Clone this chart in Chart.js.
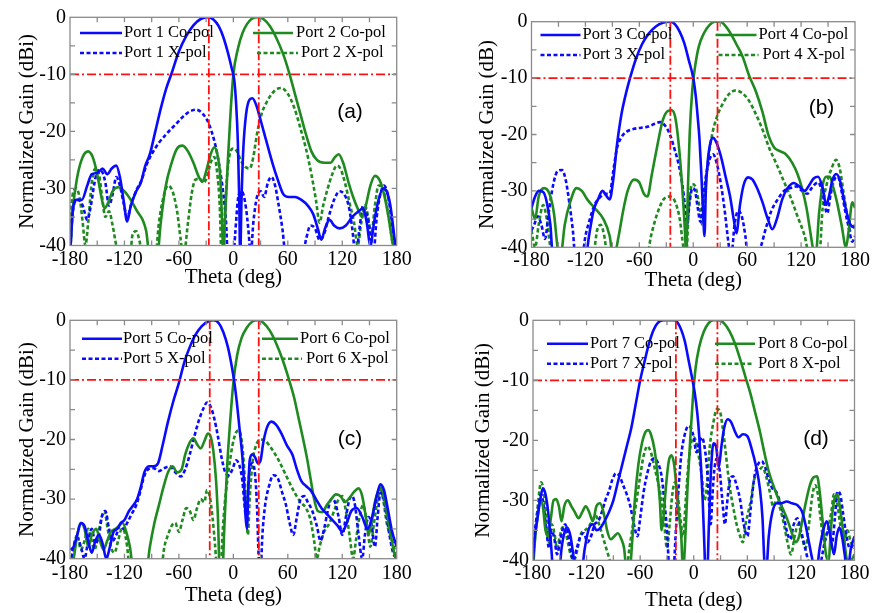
<!DOCTYPE html>
<html>
<head>
<meta charset="utf-8">
<script src="https://cdn.jsdelivr.net/npm/chart.js@4.4.1/dist/chart.umd.min.js"></script>
<style>
  body { margin: 0; background: #fff; width: 874px; height: 613px; overflow: hidden; position: relative; }
  canvas { position: absolute; }
</style>
</head>
<body>
<canvas id="panelA" width="437" height="300" style="left:0;top:0"></canvas>
<canvas id="panelB" width="437" height="300" style="left:437px;top:0"></canvas>
<canvas id="panelC" width="437" height="313" style="left:0;top:300px"></canvas>
<canvas id="panelD" width="437" height="313" style="left:437px;top:300px"></canvas>
<script>
// axis ticks
const thetaTicks = [-180, -120, -60, 0, 60, 120, 180];
const gainTicks = [0, -10, -20, -30, -40];
const refLevel = -10;

// beam directions (red dash-dot markers), one pair per panel
const beamA = [-27, 28];
const beamB = [-25.5, 27];
const beamC = [-26, 28];
const beamD = [-20, 26.5];

// panel (a): [theta deg, normalized gain dB]
const port1Co = [[-180,-42],[-177,-34],[-173,-32],[-167,-32],[-161,-29.5],[-156,-27.5],[-150,-27.3],[-144,-26.5],[-139,-27.5],[-134,-26.5],[-129,-26],[-125,-28],[-121,-32],[-117,-35.8],[-113,-33],[-107,-30.5],[-102,-29],[-97,-26],[-92,-24],[-86,-20],[-80,-16],[-74,-12.5],[-68,-9.8],[-60,-6],[-52,-3.3],[-44,-1.4],[-36,-0.3],[-28,0],[-22,-0.4],[-16,-1.6],[-11,-3.5],[-6,-6.2],[-2,-8.8],[1,-11],[3,-15],[5,-22],[6.5,-32],[7.5,-42],[9,-32],[11,-23],[14,-17],[18,-14.4],[21,-14.2],[25,-15.3],[30,-18],[36,-21.5],[43,-25.5],[49,-28.5],[55,-31],[61,-31.5],[68,-31.5],[75,-32],[82,-33],[88,-34.5],[93,-37],[97,-39],[101,-37],[106,-35.5],[111,-36.5],[117,-37],[124,-36.5],[131,-35],[138,-34],[143,-33.5],[147,-36],[151,-40],[155,-36],[160,-32],[165,-30],[169,-30.5],[173,-33],[177,-38],[180,-42]];
const port1X = [[-180,-42],[-178,-36],[-175,-32.5],[-171,-32],[-166,-33],[-161,-35.5],[-157,-33],[-153,-29],[-149,-26.8],[-145,-27],[-141,-29],[-137,-33],[-133,-31],[-129,-28],[-125,-29.5],[-121,-32.5],[-117,-35],[-112,-32.5],[-106,-30],[-101,-28.5],[-96,-26],[-90,-24],[-82,-22],[-74,-20.5],[-65,-19],[-56,-17.5],[-48,-16.5],[-41,-16.2],[-35,-16.7],[-29,-18],[-24,-20],[-19,-23],[-15,-26.5],[-11,-31],[-8,-36],[-6,-42],[0,-42],[2,-38],[5,-32],[8,-30.5],[11,-31],[14,-33.5],[17,-38],[19,-42],[22,-36],[26,-31.5],[30,-30.5],[34,-31.5],[38,-29],[42,-28],[46,-29.5],[50,-33],[54,-37],[58,-42],[76,-42],[80,-39],[85,-36.5],[90,-37],[95,-39],[100,-38],[105,-35],[111,-32],[117,-30.5],[122,-31],[127,-33],[131,-37],[135,-42],[139,-37],[143,-33],[147,-34.5],[151,-38],[154,-42],[158,-35],[162,-31],[166,-29.5],[170,-31],[174,-35],[178,-40],[180,-42]];
const port2Co = [[-180,-42],[-177,-34],[-172,-28],[-166,-24.5],[-160,-23.5],[-155,-24.5],[-150,-27.5],[-146,-31],[-142,-33.5],[-138,-32.5],[-133,-30.5],[-127,-29.8],[-120,-30.5],[-113,-32],[-106,-34],[-100,-35.5],[-96,-37.5],[-92,-42],[-84,-42],[-80,-36],[-75,-30],[-68,-25.5],[-62,-23],[-56,-22.5],[-50,-23.5],[-44,-25.5],[-38,-28],[-34,-28.8],[-30,-27],[-25,-24],[-21,-22.8],[-17,-24.5],[-14,-29],[-12,-38],[-11,-42],[-9,-35],[-6,-25],[-3,-16.5],[0,-10],[5,-5.5],[10,-2.8],[15,-1.2],[20,-0.3],[27,0],[33,-0.3],[40,-1.5],[47,-3.5],[55,-6.5],[62,-10],[68,-13.5],[74,-17],[80,-20.5],[86,-23.5],[92,-25],[100,-25.5],[107,-25.5],[112,-24.5],[116,-24],[121,-25.5],[127,-29],[132,-31.5],[137,-33.5],[142,-35],[146,-33],[151,-29.5],[156,-27.8],[161,-28.5],[166,-31],[171,-35],[176,-40],[180,-42]];
const port2X = [[-180,-36],[-177,-31],[-173,-30],[-169,-32],[-166,-36],[-163,-40],[-160,-36],[-156,-29],[-152,-26.5],[-148,-27.5],[-145,-31],[-141,-35],[-137,-34],[-133,-36.5],[-129,-40],[-125,-42],[-114,-42],[-111,-38],[-107,-37.5],[-103,-39.5],[-100,-42],[-86,-42],[-82,-36],[-77,-31.5],[-72,-29.5],[-67,-30.5],[-62,-34],[-58,-39],[-55,-42],[-50,-36],[-46,-31],[-42,-28.5],[-37,-28.3],[-33,-29],[-29,-28],[-25,-25.5],[-21,-24.5],[-18,-27],[-15,-33],[-13,-42],[-10,-36],[-7,-28],[-4,-24],[0,-23],[4,-23.5],[8,-25],[13,-26.2],[18,-26.5],[22,-24.5],[26,-20.5],[31,-17],[38,-14.5],[46,-12.8],[53,-12.4],[60,-13.4],[67,-15.8],[74,-19.5],[80,-23],[86,-27.5],[91,-32],[95,-36],[99,-33],[104,-30],[109,-27.5],[114,-26],[118,-26.5],[123,-29],[128,-32.5],[133,-36],[137,-40],[141,-36],[145,-33],[148,-34.5],[152,-38],[156,-33],[160,-29.5],[164,-29.5],[168,-32],[172,-36],[176,-40],[180,-42]];

// panel (b)
const port3Co = [[-180,-33],[-176,-31],[-172,-30],[-167,-30.2],[-163,-32],[-159,-36],[-156,-42],[-120,-42],[-116,-38],[-111,-33.5],[-106,-31.5],[-101,-30],[-97,-30.8],[-93,-31.5],[-89,-28],[-85,-22],[-80,-16.5],[-75,-12.8],[-70,-9.8],[-64,-6.7],[-57,-4],[-50,-2.2],[-42,-0.9],[-34,-0.2],[-26,0],[-20,-0.5],[-15,-1.8],[-10,-3.8],[-5,-6.8],[0,-10],[3,-13.5],[5,-17],[7,-21],[9,-27],[11,-34],[12.5,-38],[14,-30],[16,-25],[19,-21.5],[22,-20.6],[26,-21.5],[31,-24],[36,-27.5],[41,-31],[45,-35],[48,-37.5],[52,-32.5],[56,-29],[61,-27.6],[66,-28],[71,-29.5],[77,-32],[83,-35],[88,-36.8],[93,-35],[99,-31.5],[105,-29.5],[112,-28.6],[118,-29.2],[124,-30],[129,-29],[134,-27.8],[139,-27.5],[144,-29.5],[148,-32.5],[151,-31],[155,-28],[159,-27],[163,-28],[167,-31],[171,-34],[175,-36],[180,-36.5]];
const port3X = [[-180,-37],[-177,-36],[-173,-34.5],[-169,-36],[-165,-38.5],[-161,-34],[-156,-29],[-151,-26.5],[-146,-26.3],[-142,-28],[-138,-32],[-134,-37],[-131,-42],[-124,-42],[-120,-38],[-115,-35],[-110,-32.5],[-104,-31.2],[-98,-30.5],[-93,-30.5],[-89,-26.5],[-85,-22.5],[-80,-20.5],[-74,-19.5],[-66,-19],[-58,-18.8],[-50,-18.6],[-43,-18.1],[-37,-17.8],[-31,-18.5],[-26,-20],[-21,-22.5],[-16,-25.5],[-12,-29],[-9,-33],[-7,-36],[-4,-32],[-1,-29.5],[2,-30],[5,-33],[8,-35.5],[11,-31.5],[14,-27.5],[18,-24.5],[22,-23.5],[26,-25],[31,-29],[35,-33.5],[39,-39],[42,-42],[46,-36],[50,-33.5],[54,-34.5],[58,-38],[61,-42],[70,-42],[75,-40],[81,-36.5],[87,-33.5],[94,-31.5],[101,-30],[108,-29.5],[115,-29.2],[121,-30],[127,-30.5],[133,-29.2],[139,-28.5],[144,-30.5],[149,-34],[153,-30.5],[157,-28],[161,-27.5],[165,-30],[169,-33.5],[173,-36.5],[177,-39],[180,-38]];
const port4Co = [[-180,-33],[-176,-35],[-172,-31],[-166,-29.5],[-160,-30.5],[-155,-34],[-151,-40],[-148,-42],[-143,-36],[-137,-32],[-130,-29.5],[-124,-30],[-118,-31.5],[-110,-33],[-100,-35],[-93,-38],[-89,-42],[-83,-38],[-78,-33.5],[-73,-30],[-66,-28],[-60,-28.5],[-55,-30.5],[-51,-31],[-46,-27],[-40,-22],[-34,-17.5],[-28,-15.8],[-24,-15.7],[-20,-17],[-16,-22],[-12,-30],[-9,-38],[-8,-42],[-6,-30],[-4,-20],[-1,-12],[2,-8],[6,-4.5],[12,-2],[18,-0.6],[24,0],[30,0],[36,-0.8],[42,-2.2],[48,-4],[55,-6.2],[62,-9.5],[70,-12.5],[77,-16],[84,-20.3],[90,-22.3],[97,-23],[103,-23.5],[110,-25],[116,-27],[121,-29.5],[126,-33],[130,-37],[133,-40],[136,-42],[140,-34],[144,-29],[148,-27.5],[152,-27.5],[156,-29.5],[160,-32],[165,-36],[170,-40],[173,-37],[177,-32],[180,-33]];
const port4X = [[-180,-37],[-176,-40],[-172,-36],[-167,-32.5],[-163,-35],[-159,-40],[-156,-42],[-112,-42],[-107,-37],[-103,-36],[-99,-38],[-95,-42],[-52,-42],[-47,-38],[-40,-34],[-33,-31.5],[-26,-31],[-20,-32],[-15,-35],[-11,-40],[-8,-42],[-5,-33],[-1,-28.8],[3,-29.5],[7,-33],[10,-36],[13,-30],[17,-24],[21,-20],[26,-17],[32,-14.8],[40,-12.8],[47,-12.2],[54,-12.6],[62,-14],[70,-16.5],[78,-19.5],[85,-22.6],[92,-25],[100,-28],[108,-31],[116,-34.5],[124,-38],[130,-42],[140,-42],[144,-33],[149,-28.5],[154,-26],[159,-24.5],[163,-26],[167,-30],[171,-34],[175,-37],[180,-36]];

// panel (c)
const port5Co = [[-180,-38.5],[-176,-38],[-172,-36],[-168,-34],[-164,-34.5],[-160,-37],[-156,-39],[-152,-37],[-148,-36],[-144,-37.5],[-140,-40],[-136,-38],[-132,-35.5],[-128,-35],[-124,-34],[-120,-33.5],[-115,-32],[-110,-31],[-106,-30],[-102,-28],[-98,-25.5],[-93,-24.5],[-88,-24.5],[-83,-24],[-78,-21],[-72,-17],[-66,-13.5],[-60,-10.5],[-54,-7],[-48,-4.5],[-42,-2.5],[-35,-1],[-28,-0.2],[-22,0],[-16,-0.5],[-11,-2],[-6,-4.5],[-2,-7.5],[1,-10.3],[4,-14],[7,-18.5],[10,-23],[12,-28],[13.5,-33],[15,-35],[16.5,-28],[18,-23.5],[21,-22.5],[24,-23],[27,-24],[30,-23.5],[33,-20.5],[37,-18],[42,-17],[47,-17.5],[53,-19],[59,-21],[65,-22.5],[70,-25],[75,-27],[80,-27.8],[85,-28.5],[91,-30],[97,-31.5],[103,-32.5],[109,-33.5],[115,-34.5],[120,-35.5],[125,-34],[130,-32],[136,-31.5],[142,-33],[148,-35],[153,-33],[158,-29.5],[162,-27.5],[166,-28.5],[170,-31.5],[175,-35.5],[180,-38]];
const port5X = [[-180,-42],[-176,-38],[-172,-36.5],[-168,-38],[-164,-40],[-160,-37],[-156,-35],[-152,-37.5],[-148,-36],[-145,-33],[-141,-32],[-137,-35],[-133,-37],[-129,-36],[-125,-34.5],[-121,-35],[-117,-34],[-112,-32.5],[-107,-31],[-103,-29],[-99,-26.5],[-94,-25],[-88,-24.8],[-82,-25.3],[-76,-24.8],[-70,-24.5],[-64,-25.5],[-58,-26.2],[-53,-25],[-48,-22.5],[-43,-19.5],[-38,-16.8],[-33,-14.8],[-29,-13.8],[-25,-14.5],[-21,-16.5],[-17,-19.5],[-13,-23],[-9,-25.5],[-5,-26],[-1,-25],[3,-23.5],[7,-24.5],[10,-27],[12,-30.5],[14,-33],[16,-29],[18,-25],[21,-24],[24,-26],[26,-31],[28,-40],[30,-42],[32,-36],[35,-31],[39,-28],[44,-26],[49,-26.5],[54,-29],[58,-31],[62,-34],[66,-36],[70,-33],[74,-30],[78,-29.5],[82,-30.5],[87,-32],[92,-34.5],[96,-37],[100,-35],[104,-32],[108,-30],[112,-30.5],[116,-33],[120,-36],[124,-33],[128,-30],[131,-29.5],[134,-31],[138,-36],[142,-40],[145,-36],[149,-33],[152,-34],[156,-38],[159,-33],[162,-29],[165,-29.5],[168,-32],[172,-36],[176,-39],[180,-40]];
const port6Co = [[-180,-42],[-176,-40],[-172,-36],[-168,-34],[-164,-35],[-160,-38],[-156,-36],[-151,-35],[-147,-37],[-143,-38.5],[-139,-37],[-135,-35.5],[-130,-35],[-126,-34.5],[-122,-34],[-118,-35.5],[-114,-38],[-110,-42],[-96,-42],[-92,-38],[-87,-34],[-82,-31],[-77,-28],[-72,-25.5],[-67,-24.5],[-62,-25.5],[-57,-25],[-53,-22.5],[-48,-20.5],[-44,-19.8],[-40,-20.8],[-36,-21.5],[-32,-20.3],[-28,-19],[-25,-19.5],[-22,-22],[-19,-27],[-17,-33],[-15,-42],[-12,-42],[-10,-35],[-7,-25],[-4,-18],[0,-10.5],[4,-6],[9,-3],[15,-1.2],[21,-0.2],[27,0],[33,-0.4],[40,-1.7],[47,-3.8],[54,-6.5],[61,-9.8],[67,-13],[72,-16.5],[77,-20],[81,-23],[85,-26.5],[89,-30],[93,-32],[98,-32.2],[103,-31],[108,-30],[113,-29.2],[118,-29.5],[123,-30.5],[128,-29.8],[133,-28.8],[138,-28.2],[142,-29.5],[146,-33],[149,-36],[152,-34],[156,-30.5],[160,-28.5],[163,-28],[166,-29.5],[170,-33],[174,-36.5],[178,-39.5],[180,-40]];
const port6X = [[-180,-42],[-176,-38],[-172,-36],[-168,-38.5],[-164,-37],[-160,-35],[-157,-36.5],[-153,-38.5],[-149,-36],[-145,-33],[-142,-32],[-139,-34.5],[-135,-38],[-131,-39],[-127,-37],[-123,-35],[-120,-35.5],[-117,-38],[-114,-42],[-80,-42],[-76,-38],[-72,-36],[-68,-34.5],[-64,-34],[-60,-35.5],[-56,-33.5],[-52,-31.5],[-48,-32],[-44,-33.5],[-40,-31.5],[-36,-30],[-32,-30.5],[-29,-28.5],[-26,-29.5],[-23,-33],[-20,-38],[-18,-42],[-14,-42],[-12,-36],[-9,-30],[-5,-25],[-1,-21],[3,-18.8],[6,-18.5],[9,-20],[12,-25],[14,-31],[16,-36],[18,-30],[21,-24],[25,-21],[30,-20],[35,-20.2],[42,-21.5],[50,-23.5],[58,-26],[66,-28.5],[74,-30.5],[80,-31.5],[85,-33.5],[89,-37],[92,-40],[95,-38],[100,-35.5],[106,-34],[111,-32],[116,-30],[120,-29.5],[124,-32],[128,-36],[132,-40],[135,-37],[139,-33],[143,-31],[147,-34],[151,-38],[155,-34],[159,-30],[162,-28.5],[165,-30],[169,-34],[173,-36],[177,-38],[180,-40]];

// panel (d)
const port7Co = [[-180,-40],[-178,-36],[-175,-33],[-172,-30],[-169,-28],[-166,-29],[-163,-32],[-160,-37],[-157,-42],[-151,-42],[-148,-38],[-145,-35.5],[-142,-34.5],[-138,-36],[-135,-39],[-132,-42],[-126,-42],[-122,-38],[-118,-35],[-113,-34],[-109,-35],[-104,-34.5],[-100,-33.5],[-95,-32],[-90,-30],[-85,-27],[-80,-24],[-75,-21],[-70,-18],[-65,-14],[-60,-10],[-55,-6.8],[-50,-3.8],[-45,-1.6],[-40,-0.4],[-34,0],[-28,0],[-22,0],[-18,-0.4],[-14,-1.6],[-10,-3.5],[-6,-6.5],[-2,-9.5],[1,-12],[4,-15.5],[6,-19],[8,-24],[10,-30],[12,-38],[13,-42],[15,-42],[17,-34],[19,-26],[22,-20.5],[25,-21],[28,-24.5],[31,-21],[34,-18],[38,-16.5],[42,-17],[46,-18.5],[50,-19.5],[55,-19],[60,-19.3],[65,-21.5],[70,-24.5],[74,-28],[77,-33],[79,-40],[81,-42],[84,-36],[88,-32],[93,-30.5],[98,-30.5],[104,-30.2],[110,-30.5],[116,-30.8],[121,-31.8],[125,-34],[129,-37],[133,-40],[137,-42],[141,-38],[145,-35],[149,-33.5],[153,-36],[157,-39],[160,-36],[163,-34.5],[166,-36],[169,-39],[172,-42],[176,-38],[180,-36]];
const port7X = [[-180,-39],[-177,-34],[-174,-31],[-171,-29],[-168,-31],[-165,-35],[-162,-38],[-159,-35],[-156,-36.5],[-153,-39],[-150,-37],[-147,-35],[-144,-34],[-141,-35.5],[-138,-38],[-135,-40],[-131,-38],[-127,-36],[-123,-35.5],[-119,-37],[-115,-36],[-111,-34],[-107,-33.5],[-103,-32],[-99,-30],[-95,-28.5],[-91,-26.5],[-87,-25.5],[-83,-26],[-79,-27.5],[-75,-29],[-71,-31],[-67,-34],[-63,-36],[-60,-33],[-56,-28.5],[-52,-25.5],[-48,-23.5],[-44,-23],[-40,-23.8],[-36,-26],[-33,-30],[-30,-35],[-27,-42],[-23,-42],[-20,-35],[-17,-28],[-14,-22.5],[-10,-19],[-6,-17.6],[-3,-18],[0,-19.5],[3,-22],[6,-20.5],[9,-19.5],[12,-21],[15,-25],[17,-30],[19,-34],[21,-29],[23,-25],[26,-23],[29,-25],[32,-30],[35,-34],[37,-31],[40,-27],[44,-26],[48,-27.5],[52,-30],[56,-34],[60,-36],[64,-31],[68,-26],[72,-24],[76,-23.5],[80,-24.5],[84,-26.5],[88,-28],[92,-28.5],[96,-30],[100,-32],[104,-35],[108,-36.5],[112,-34],[116,-33],[120,-35],[124,-37.5],[128,-40],[132,-42],[140,-42],[144,-39],[148,-36],[152,-35],[155,-37],[158,-33],[161,-28.5],[164,-29],[167,-32],[171,-36],[175,-38],[180,-37]];
const port8Co = [[-180,-42],[-178,-37],[-175,-33],[-172,-30],[-169,-31],[-166,-35],[-163,-36],[-160,-33],[-157,-30],[-154,-29.8],[-151,-31],[-148,-33.5],[-145,-31],[-141,-30],[-137,-31],[-133,-32],[-129,-33],[-125,-32],[-121,-31],[-117,-32],[-113,-33.5],[-109,-31],[-105,-30.5],[-101,-32],[-97,-35],[-93,-36.5],[-89,-36],[-85,-35.5],[-81,-36.5],[-78,-38],[-75,-42],[-72,-42],[-69,-37],[-66,-30],[-62,-24],[-58,-20.5],[-54,-18.6],[-51,-18.3],[-48,-19],[-44,-21.5],[-41,-25],[-38,-30],[-36,-35],[-34,-33],[-31,-27.5],[-28,-23.5],[-25,-22.5],[-22,-24],[-19,-28.5],[-17,-32],[-14,-36],[-12,-42],[-10,-38],[-7,-28],[-4,-20],[-1,-13],[2,-8],[6,-4.5],[11,-2],[16,-0.6],[22,0],[28,0],[34,-0.5],[40,-1.8],[46,-3.8],[52,-6.5],[58,-9.5],[64,-12.5],[69,-15.5],[74,-18.5],[79,-22],[84,-25.2],[89,-27.5],[94,-29.5],[100,-31.5],[105,-33.3],[110,-35.5],[114,-37],[118,-36],[122,-33],[126,-30],[130,-27.5],[134,-26.2],[138,-26],[141,-28.5],[144,-33],[148,-39],[151,-40],[154,-34],[158,-29.5],[161,-29],[164,-31.5],[168,-36],[172,-40],[176,-40],[180,-39]];
const port8X = [[-180,-40],[-177,-35],[-174,-30],[-171,-27],[-168,-28.5],[-165,-33],[-162,-37],[-159,-34],[-156,-35.5],[-153,-38],[-150,-36],[-147,-34.5],[-144,-35],[-141,-37],[-138,-39],[-134,-40],[-130,-38],[-126,-35.5],[-122,-35],[-118,-34.5],[-114,-33.5],[-110,-32.5],[-106,-34],[-102,-36],[-98,-38],[-94,-40],[-90,-42],[-76,-42],[-72,-38],[-68,-34],[-64,-30],[-60,-26],[-56,-22.5],[-52,-21],[-48,-22],[-44,-24.5],[-40,-27],[-36,-30],[-33,-34],[-30,-38],[-27,-34],[-24,-29],[-21,-27],[-18,-29],[-15,-33],[-12,-36],[-9,-30],[-6,-24],[-3,-20.5],[0,-19.5],[3,-20.5],[6,-23],[9,-26],[12,-30],[15,-27],[18,-21],[22,-17],[26,-14.8],[29,-15],[32,-17.5],[35,-21],[38,-25],[41,-28.5],[44,-31],[48,-34],[52,-36],[55,-37],[58,-34],[61,-32],[64,-30],[67,-27],[70,-25.5],[73,-25],[77,-24.5],[81,-26],[85,-28.5],[89,-31],[93,-30],[97,-31.5],[101,-34],[105,-37],[109,-39],[113,-36],[117,-34],[121,-36],[125,-38],[129,-34],[133,-29],[136,-27.5],[139,-29],[142,-33],[146,-37],[150,-35],[154,-32],[157,-29],[160,-30],[164,-34],[168,-37],[172,-35],[176,-37],[180,-38]];

const BLUE = '#0a0aff';
const GREEN = '#1f8a1f';
const RED = '#ff1010';
const SERIF = '"Liberation Serif", "Times New Roman", serif';

function toPoints(arr) {
    return arr.map(p => ({ x: p[0], y: p[1] }));
}

function curve(label, arr, color, dashed) {
    return {
        label: label,
        data: toPoints(arr),
        borderColor: color,
        borderWidth: 2.6,
        borderDash: dashed ? [4, 2.5] : [],
        pointRadius: 0,
        cubicInterpolationMode: 'monotone',
        fill: false
    };
}

function refLines(beams) {
    const style = { borderColor: RED, borderWidth: 1.8, borderDash: [9, 3, 2, 3], pointRadius: 0, fill: false, label: 'ref' };
    const sets = [Object.assign({}, style, { data: [{ x: -180, y: refLevel }, { x: 180, y: refLevel }] })];
    beams.forEach(b => {
        sets.push(Object.assign({}, style, { data: [{ x: b, y: 0 }, { x: b, y: -40 }] }));
    });
    return sets;
}

// box with inward ticks on all four sides
const framePlugin = {
    id: 'frame',
    afterDatasetsDraw(chart) {
        const { ctx, chartArea: a, scales: { x, y } } = chart;
        ctx.save();
        ctx.strokeStyle = '#8a8a8a';
        ctx.lineWidth = 1.3;
        ctx.strokeRect(a.left, a.top, a.right - a.left, a.bottom - a.top);
        ctx.beginPath();
        for (let t = -150; t < 180; t += 30) {
            const px = x.getPixelForValue(t);
            ctx.moveTo(px, a.bottom); ctx.lineTo(px, a.bottom - 5);
            ctx.moveTo(px, a.top); ctx.lineTo(px, a.top + 5);
        }
        for (let g = -35; g < 0; g += 5) {
            const py = y.getPixelForValue(g);
            ctx.moveTo(a.left, py); ctx.lineTo(a.left + 5, py);
            ctx.moveTo(a.right, py); ctx.lineTo(a.right - 5, py);
        }
        ctx.stroke();
        ctx.restore();
    }
};

// legend drawn inside the plot, positions relative to chart area
const inLegendPlugin = {
    id: 'inLegend',
    afterDatasetsDraw(chart, args, opts) {
        const { ctx, chartArea: a } = chart;
        ctx.save();
        ctx.font = '16.5px ' + SERIF;
        ctx.fillStyle = '#000';
        ctx.textBaseline = 'middle';
        (opts.items || []).forEach(it => {
            ctx.beginPath();
            ctx.strokeStyle = it.color;
            ctx.lineWidth = 2.6;
            ctx.setLineDash(it.dashed ? [4, 2.5] : []);
            ctx.moveTo(a.left + it.x0, a.top + it.y);
            ctx.lineTo(a.left + it.x1, a.top + it.y);
            ctx.stroke();
            ctx.setLineDash([]);
            ctx.fillText(it.text, a.left + it.tx, a.top + it.y);
        });
        if (opts.tag) {
            ctx.font = '21px "Liberation Sans", Arial, sans-serif';
            ctx.textAlign = 'center';
            ctx.fillText(opts.tag.text, a.left + opts.tag.x, a.top + opts.tag.y);
        }
        ctx.restore();
    }
};

function legendItems(names, colL, colR, rows) {
    return [
        { text: names[0], color: BLUE, dashed: false, x0: colL[0], x1: colL[1], tx: colL[2], y: rows[0] },
        { text: names[1], color: BLUE, dashed: true, x0: colL[0], x1: colL[1], tx: colL[2], y: rows[1] },
        { text: names[2], color: GREEN, dashed: false, x0: colR[0], x1: colR[1], tx: colR[2], y: rows[0] },
        { text: names[3], color: GREEN, dashed: true, x0: colR[3], x1: colR[4], tx: colR[5], y: rows[1] }
    ];
}

function makePanel(id, p) {
    const datasets = refLines(p.beams).concat([
        curve(p.names[0], p.series[0], BLUE, false),
        curve(p.names[2], p.series[2], GREEN, false),
        curve(p.names[1], p.series[1], BLUE, true),
        curve(p.names[3], p.series[3], GREEN, true)
    ]);
    new Chart(document.getElementById(id), {
        type: 'line',
        data: { datasets: datasets },
        options: {
            responsive: false,
            animation: false,
            devicePixelRatio: 1,
            layout: { padding: { left: 0, top: p.padTop, right: p.padRight, bottom: 0 } },
            plugins: {
                legend: { display: false },
                tooltip: { enabled: false },
                inLegend: { items: legendItems(p.names, p.colL, p.colR, p.rows), tag: p.tag }
            },
            scales: {
                x: {
                    type: 'linear', min: -180, max: 180,
                    afterBuildTicks: s => { s.ticks = thetaTicks.map(v => ({ value: v })); },
                    ticks: { color: '#000', font: { family: SERIF, size: 20 }, padding: p.xTickPad, maxRotation: 0, autoSkip: false },
                    grid: { display: false, drawTicks: false },
                    border: { display: false },
                    title: { display: true, text: 'Theta (deg)', color: '#000', font: { family: SERIF, size: 21 }, padding: { top: 0, bottom: p.xTitlePad } },
                    afterFit: s => { s.height = p.xHeight; }
                },
                y: {
                    type: 'linear', min: -40, max: 0,
                    afterBuildTicks: s => { s.ticks = gainTicks.map(v => ({ value: v })); },
                    ticks: { color: '#000', font: { family: SERIF, size: 20 }, padding: 4 },
                    grid: { display: false, drawTicks: false },
                    border: { display: false },
                    title: { display: true, text: p.yTitle, color: '#000', font: { family: SERIF, size: 21 }, padding: { top: p.yTitlePad, bottom: 0 } },
                    afterFit: s => { s.width = p.yWidth; }
                }
            }
        },
        plugins: [framePlugin, inLegendPlugin]
    });
}

makePanel('panelA', {
    beams: beamA, series: [port1Co, port1X, port2Co, port2X],
    names: ['Port 1 Co-pol', 'Port 1 X-pol', 'Port 2 Co-pol', 'Port 2 X-pol'],
    colL: [10, 52, 54], colR: [183, 223, 226, 187, 228, 231], rows: [15.7, 35.7],
    tag: { text: '(a)', x: 280, y: 95 },
    padTop: 17.3, padRight: 40.3, yWidth: 70, xHeight: 54.5,
    yTitle: 'Normalized Gain (dBi)', yTitlePad: 14.4, xTitlePad: 10.4, xTickPad: 2
});
makePanel('panelB', {
    beams: beamB, series: [port3Co, port3X, port4Co, port4X],
    names: ['Port 3 Co-pol', 'Port 3 X-pol', 'Port 4 Co-pol', 'Port 4 X-pol'],
    colL: [9, 49, 51], colR: [184, 225, 227, 187, 227, 231], rows: [13.3, 33.3],
    tag: { text: '(b)', x: 290, y: 87 },
    padTop: 21.7, padRight: 19, yWidth: 94.5, xHeight: 52.7,
    yTitle: 'Normalized Gain (dB)', yTitlePad: 37.4, xTitlePad: 7.4, xTickPad: 1
});
makePanel('panelC', {
    beams: beamC, series: [port5Co, port5X, port6Co, port6X],
    names: ['Port 5 Co-pol', 'Port 5 X-pol', 'Port 6 Co-pol', 'Port 6 X-pol'],
    colL: [12, 52, 53], colR: [192, 228, 230, 192, 232, 236], rows: [18.4, 38.4],
    tag: { text: '(c)', x: 280, y: 119 },
    padTop: 20.3, padRight: 40.3, yWidth: 70, xHeight: 54.3,
    yTitle: 'Normalized Gain (dBi)', yTitlePad: 14.4, xTitlePad: 5.4, xTickPad: 2.6
});
makePanel('panelD', {
    beams: beamD, series: [port7Co, port7X, port8Co, port8X],
    names: ['Port 7 Co-pol', 'Port 7 X-pol', 'Port 8 Co-pol', 'Port 8 X-pol'],
    colL: [14, 55, 57], colR: [182, 222, 225, 182, 220, 225], rows: [23.4, 43.4],
    tag: { text: '(d)', x: 283, y: 119 },
    padTop: 20.3, padRight: 19.5, yWidth: 96, xHeight: 52.7,
    yTitle: 'Normalized Gain (dBi)', yTitlePad: 33.4, xTitlePad: 0, xTickPad: 1
});
</script>
</body>
</html>
